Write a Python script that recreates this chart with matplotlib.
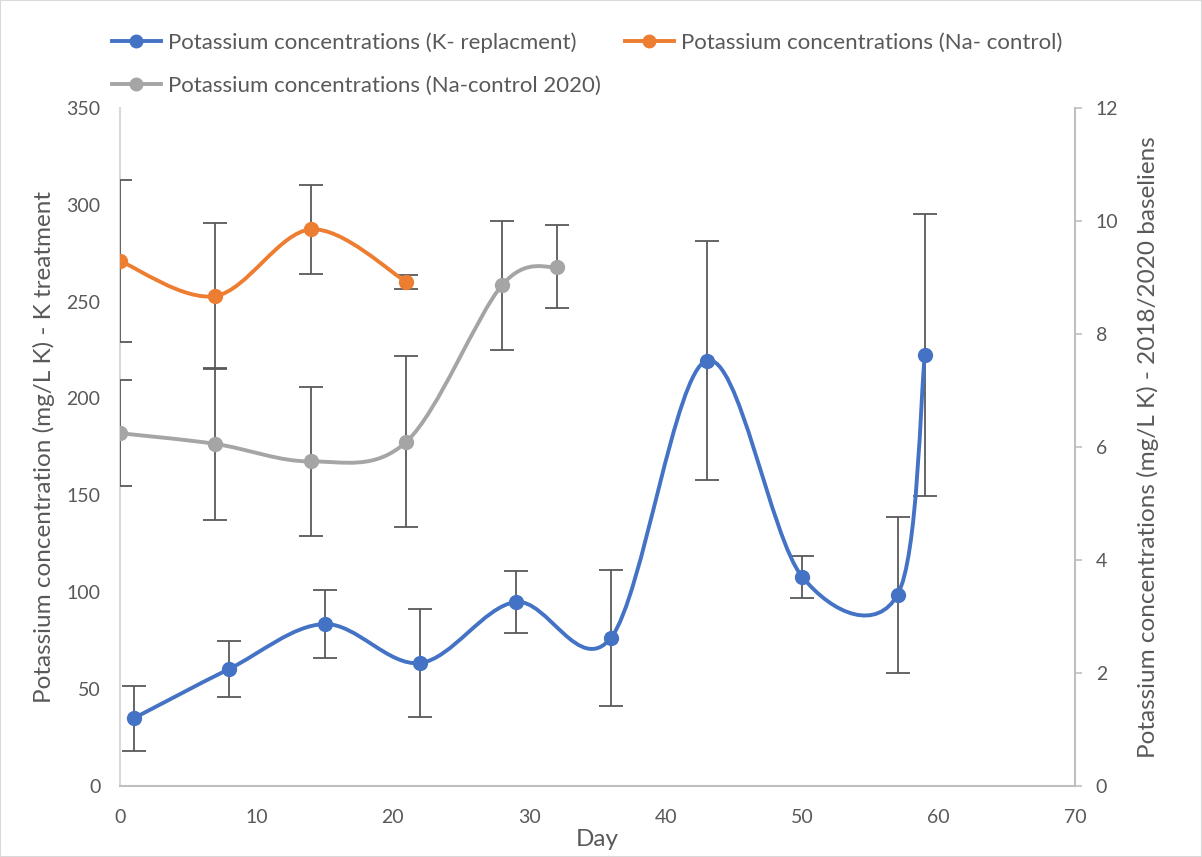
import numpy as np
import matplotlib
matplotlib.use("Agg")
import matplotlib.pyplot as plt
from matplotlib.path import Path
from matplotlib.patches import PathPatch, Rectangle
from matplotlib.lines import Line2D

plt.rcParams['font.family'] = ['Lato', 'DejaVu Sans']

# K-replacement treatment (left axis)
k_days = [1, 8, 15, 22, 29, 36, 43, 50, 57, 59]
k_conc = [34.7, 60.2, 83.4, 63.3, 94.8, 76.4, 219.5, 107.9, 98.6, 222.4]
k_err = [16.9, 14.4, 17.4, 27.7, 16.2, 35.1, 61.7, 10.8, 40.3, 72.8]

# Na-control baseline (right axis)
na_days = [0, 7, 14, 21]
na_conc = [9.29, 8.67, 9.85, 8.92]
na_err = [1.43, 1.29, 0.79, 0.13]

# Na-control 2020 baseline (right axis)
na20_days = [0, 7, 14, 21, 28, 32]
na20_conc = [6.24, 6.05, 5.74, 6.09, 8.86, 9.19]
na20_err = [0.94, 1.34, 1.32, 1.52, 1.14, 0.73]

labels = ['Potassium concentrations (K- replacment)',
          'Potassium concentrations (Na- control)',
          'Potassium concentrations (Na-control 2020)']
colors = ['#4472C4', '#ED7D31', '#A5A5A5']
txt = '#595959'
axis_col = '#BFBFBF'


def smooth_path(x, y):
    # excel-ish smoothed line: cubic bezier through the points
    pts = np.column_stack([x, y]).astype(float)
    n = len(pts)
    verts = [pts[0]]
    codes = [Path.MOVETO]
    for i in range(n - 1):
        p0 = pts[i - 1] if i > 0 else pts[i]
        p1 = pts[i]
        p2 = pts[i + 1]
        p3 = pts[i + 2] if i + 2 < n else pts[i + 1]
        c1 = p1 + (p2 - p0) / 6.0
        c2 = p2 - (p3 - p1) / 6.0
        verts += [c1, c2, p2]
        codes += [Path.CURVE4] * 3
    return Path(verts, codes)


def draw_series(ax, x, y, err, col, z):
    ax.errorbar(x, y, yerr=err, fmt='none', ecolor='#595959', elinewidth=1.3,
                capsize=8.5, capthick=1.3, zorder=z)
    ax.add_patch(PathPatch(smooth_path(x, y), fill=False, edgecolor=col,
                           lw=2.8, capstyle='round', zorder=z + 0.1))
    ax.plot(x, y, 'o', color=col, markersize=10, zorder=z + 0.2)


fig = plt.figure(figsize=(12.02, 8.57), dpi=100)
ax = fig.add_axes([0.0998, 0.0834, 0.7945, 0.7906])
ax2 = ax.twinx()

draw_series(ax, k_days, k_conc, k_err, colors[0], 3)
draw_series(ax2, na20_days, na20_conc, na20_err, colors[2], 3)
draw_series(ax2, na_days, na_conc, na_err, colors[1], 4)

ax.set_xlim(0, 70)
ax.set_ylim(0, 350)
ax2.set_ylim(0, 12)
ax.set_xticks(np.arange(0, 71, 10))
ax.set_yticks(np.arange(0, 351, 50))
ax2.set_yticks(np.arange(0, 13, 2))

for a in (ax, ax2):
    for s in a.spines.values():
        s.set_visible(False)
ax.spines['left'].set_visible(True)
ax.spines['bottom'].set_visible(True)
ax2.spines['right'].set_visible(True)
ax.spines['left'].set_color('#D9D9D9')
ax.spines['bottom'].set_color(axis_col)
ax2.spines['right'].set_color(axis_col)
for s in (ax.spines['left'], ax.spines['bottom'], ax2.spines['right']):
    s.set_linewidth(1.5)

ax.tick_params(axis='x', length=0, pad=17, labelsize=14, labelcolor=txt)
ax.tick_params(axis='y', length=0, pad=14, labelsize=14, labelcolor=txt)
ax2.tick_params(axis='y', length=5, width=1.2, color=axis_col, pad=10,
                labelsize=14, labelcolor=txt)

ax.set_xlabel('Day', fontsize=17.5, color=txt, labelpad=2)
ax.set_ylabel('Potassium concentration (mg/L K) - K treatment', fontsize=17.5,
              color=txt, labelpad=8)
ax2.set_ylabel('Potassium concentrations (mg/L K) - 2018/2020 baseliens',
               fontsize=17.5, color=txt, labelpad=13)

# legend laid out row by row like excel
handles = [Line2D([], [], color=c, lw=2.8, marker='o', markersize=9) for c in colors]
order = [0, 2, 1]
fig.legend([handles[i] for i in order], [labels[i] for i in order],
           loc='upper left', bbox_to_anchor=(0.0932, 0.9625), ncol=2, frameon=False,
           borderpad=0, borderaxespad=0, fontsize=16, labelcolor=txt,
           handlelength=2.2, handletextpad=0.32, columnspacing=1.08,
           labelspacing=1.05)

fig.patches.append(Rectangle((0, 0), 1, 1, transform=fig.transFigure,
                             fill=False, edgecolor='#D9D9D9', lw=1.5))

fig.savefig('out.png', dpi=100)
